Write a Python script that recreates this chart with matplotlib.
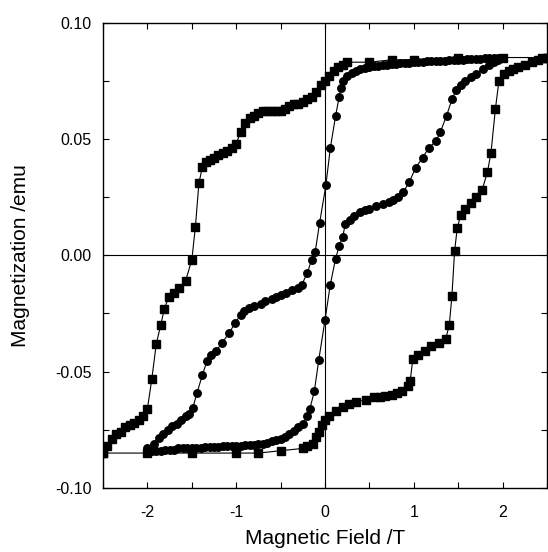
import matplotlib
matplotlib.use("Agg")
import matplotlib.pyplot as plt
from matplotlib.ticker import MultipleLocator

plt.rcParams["font.family"] = ["Liberation Sans", "DejaVu Sans"]
plt.rcParams["axes.unicode_minus"] = False

# outer loop (squares): field sweep +2.5 -> -2.5, then back
sq_down_B = [2.5, 2.0, 1.5, 1.0, 0.75, 0.5, 0.25, 0.2, 0.15, 0.1, 0.05, 0.0,
             -0.05, -0.1, -0.15, -0.2, -0.25, -0.3, -0.35, -0.4, -0.45, -0.5,
             -0.55, -0.6, -0.65, -0.7, -0.75, -0.8, -0.85, -0.9, -0.95, -1.0,
             -1.05, -1.1, -1.15, -1.2, -1.25, -1.3, -1.34, -1.38, -1.42, -1.46,
             -1.5, -1.57, -1.64, -1.7, -1.76, -1.81, -1.85, -1.9, -1.95, -2.0,
             -2.05, -2.1, -2.15, -2.2, -2.25, -2.3, -2.35, -2.4, -2.45, -2.5]
sq_down_M = [0.085, 0.085, 0.085, 0.084, 0.084, 0.083, 0.083, 0.082, 0.081,
             0.079, 0.077, 0.075, 0.073, 0.070, 0.068, 0.067, 0.066, 0.065,
             0.065, 0.064, 0.063, 0.062, 0.062, 0.062, 0.062, 0.062, 0.061,
             0.060, 0.059, 0.057, 0.053, 0.048, 0.046, 0.045, 0.044, 0.043,
             0.042, 0.041, 0.040, 0.038, 0.031, 0.012, -0.002, -0.011, -0.014,
             -0.016, -0.018, -0.023, -0.030, -0.038, -0.053, -0.066, -0.069,
             -0.071, -0.072, -0.073, -0.074, -0.076, -0.077, -0.079, -0.082,
             -0.085]

sq_up_B = [-2.5, -2.0, -1.5, -1.0, -0.75, -0.5, -0.25, -0.2, -0.14, -0.1,
           -0.07, -0.03, 0.0, 0.05, 0.12, 0.2, 0.27, 0.35, 0.46, 0.55, 0.62,
           0.68, 0.75, 0.81, 0.87, 0.93, 0.96, 0.99, 1.05, 1.13, 1.2, 1.28,
           1.36, 1.4, 1.43, 1.46, 1.49, 1.53, 1.58, 1.64, 1.7, 1.77, 1.83,
           1.87, 1.92, 1.96, 2.02, 2.07, 2.12, 2.18, 2.25, 2.33, 2.4, 2.45, 2.5]
sq_up_M = [-0.085, -0.085, -0.085, -0.085, -0.085, -0.084, -0.083, -0.082,
           -0.081, -0.078, -0.076, -0.073, -0.071, -0.069, -0.067, -0.065,
           -0.064, -0.063, -0.062, -0.061, -0.0608, -0.0606, -0.060, -0.059,
           -0.0585, -0.056, -0.054, -0.0445, -0.043, -0.041, -0.039, -0.0377,
           -0.036, -0.030, -0.0176, 0.0017, 0.0117, 0.0175, 0.020, 0.0225,
           0.025, 0.028, 0.0358, 0.044, 0.063, 0.075, 0.078, 0.079, 0.080,
           0.081, 0.082, 0.083, 0.084, 0.085, 0.085]

# inner loop (circles): +2 -> -2, then back
ci_down_B = [2.0, 1.95, 1.9, 1.85, 1.8, 1.75, 1.7, 1.65, 1.6, 1.55, 1.5, 1.45,
             1.4, 1.35, 1.3, 1.25, 1.2, 1.15, 1.1, 1.05, 1.0, 0.95, 0.9, 0.85,
             0.8, 0.75, 0.7, 0.65, 0.6, 0.55, 0.5, 0.45, 0.4, 0.35, 0.3, 0.25,
             0.2, 0.18, 0.16, 0.12, 0.06, 0.01, -0.06, -0.11, -0.15, -0.2,
             -0.26, -0.3, -0.37, -0.44, -0.5, -0.55, -0.6, -0.67, -0.72, -0.8,
             -0.86, -0.91, -0.95, -1.01, -1.08, -1.16, -1.23, -1.28, -1.33,
             -1.38, -1.44, -1.49, -1.53, -1.57, -1.62, -1.67, -1.72, -1.77,
             -1.82, -1.87, -1.93, -2.0]
ci_down_M = [0.085, 0.085, 0.0848, 0.0847, 0.0846, 0.0845, 0.0844, 0.0843,
             0.0842, 0.0841, 0.084, 0.0839, 0.0838, 0.0837, 0.0836, 0.0835,
             0.0834, 0.0833, 0.0832, 0.0831, 0.083, 0.0828, 0.0827, 0.0825,
             0.0824, 0.0822, 0.082, 0.0818, 0.0815, 0.0812, 0.081, 0.0805,
             0.080, 0.079, 0.0785, 0.077, 0.075, 0.072, 0.068, 0.060, 0.046,
             0.030, 0.014, 0.0015, -0.002, -0.0076, -0.0126, -0.014, -0.015,
             -0.016, -0.017, -0.018, -0.0188, -0.0198, -0.021, -0.022, -0.0227,
             -0.024, -0.0255, -0.029, -0.0334, -0.0377, -0.0413, -0.043,
             -0.0456, -0.0513, -0.059, -0.0657, -0.068, -0.069, -0.071,
             -0.0725, -0.0735, -0.075, -0.077, -0.0786, -0.081, -0.083]

ci_up_B = [-2.0, -1.95, -1.9, -1.85, -1.8, -1.75, -1.7, -1.65, -1.6, -1.55,
           -1.5, -1.45, -1.4, -1.35, -1.3, -1.25, -1.2, -1.15, -1.1, -1.05,
           -1.0, -0.95, -0.9, -0.85, -0.8, -0.75, -0.7, -0.65, -0.6, -0.55,
           -0.5, -0.45, -0.4, -0.35, -0.3, -0.25, -0.2, -0.17, -0.12, -0.07,
           0.0, 0.06, 0.12, 0.16, 0.2, 0.23, 0.28, 0.33, 0.4, 0.45, 0.5, 0.58,
           0.65, 0.72, 0.77, 0.82, 0.88, 0.95, 1.02, 1.1, 1.17, 1.25, 1.3,
           1.37, 1.43, 1.48, 1.53, 1.58, 1.64, 1.7, 1.78, 1.85, 1.9, 1.95, 2.0]
ci_up_M = [-0.084, -0.084, -0.084, -0.084, -0.0835, -0.0835, -0.0835, -0.083,
           -0.083, -0.083, -0.083, -0.083, -0.083, -0.0825, -0.0825, -0.0825,
           -0.0825, -0.082, -0.082, -0.082, -0.082, -0.082, -0.0815, -0.0815,
           -0.0815, -0.081, -0.081, -0.0805, -0.080, -0.0795, -0.079, -0.078,
           -0.077, -0.0755, -0.074, -0.0725, -0.069, -0.066, -0.0585, -0.045,
           -0.028, -0.0126, -0.0014, 0.004, 0.008, 0.0136, 0.015, 0.017,
           0.0185, 0.0195, 0.020, 0.021, 0.022, 0.023, 0.0237, 0.025, 0.027,
           0.0315, 0.0375, 0.042, 0.0462, 0.049, 0.053, 0.060, 0.067, 0.071,
           0.073, 0.075, 0.0765, 0.078, 0.080, 0.082, 0.083, 0.084, 0.085]

fig = plt.figure(figsize=(5.48, 5.52), dpi=100)
ax = fig.add_axes([0.188, 0.116, 0.81, 0.843])

ax.axhline(0, color="black", lw=0.8, zorder=1)
ax.axvline(0, color="black", lw=0.8, zorder=1)

for B, M in ((sq_down_B, sq_down_M), (sq_up_B, sq_up_M)):
    ax.plot(B, M, "-s", color="black", lw=0.8, ms=6, zorder=3)
for B, M in ((ci_down_B, ci_down_M), (ci_up_B, ci_up_M)):
    ax.plot(B, M, "-o", color="black", lw=0.8, ms=5.4, zorder=3)

ax.set_xlim(-2.5, 2.5)
ax.set_ylim(-0.1, 0.1)
ax.set_xticks([-2, -1, 0, 1, 2])
ax.set_yticks([-0.10, -0.05, 0.00, 0.05, 0.10])
ax.set_yticklabels(["-0.10", "-0.05", "0.00", "0.05", "0.10"])
ax.xaxis.set_minor_locator(MultipleLocator(0.5))
ax.yaxis.set_minor_locator(MultipleLocator(0.025))
ax.tick_params(which="both", direction="in", top=True, right=True,
               length=4, width=0.8, labelsize=11.5)
ax.tick_params(axis="x", pad=12)
ax.tick_params(axis="y", pad=8)
for s in ax.spines.values():
    s.set_linewidth(1.0)

ax.set_xlabel("Magnetic Field /T", fontsize=15, labelpad=7)
ax.set_ylabel("Magnetization /emu", fontsize=15, labelpad=18)

fig.savefig("out.png", dpi=100, facecolor="white")
